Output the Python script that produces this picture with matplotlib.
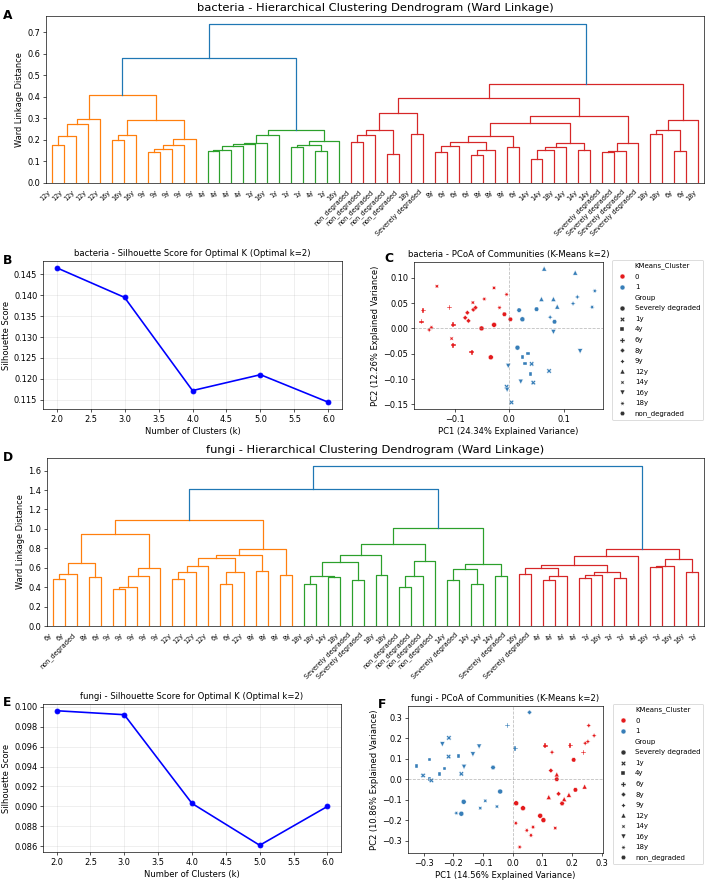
import numpy as np
import pandas as pd
import matplotlib
matplotlib.use("Agg")
import matplotlib.pyplot as plt
import seaborn as sns

W, H, DPI = 708, 881, 59

# ---------------- Dendrogram data (leaf labels in display order, merge trees) ----------------
bac_leaf_labels = ["12y", "12y", "12y", "12y", "12y", "16y", "16y", "16y", "9y", "9y", "9y", "9y", "9y",
                   "4y", "4y", "4y", "4y", "1y", "16y", "1y", "1y", "1y", "4y", "1y", "16y",
                   "non_degraded", "non_degraded", "non_degraded", "non_degraded", "non_degraded", "18y",
                   "Severely degraded", "8y", "6y", "6y", "6y", "8y", "8y", "8y", "6y",
                   "14y", "14y", "18y", "14y", "14y", "14y",
                   "Severely degraded", "Severely degraded", "Severely degraded", "Severely degraded",
                   "18y", "18y", "6y", "6y", "18y"]

# node = [left, right, merge height]; leaves are indices into the label list
bo1 = [[[[0, 1, 0.175], 2, 0.22], 3, 0.274], 4, 0.298]
bo2 = [[5, 6, 0.20], 7, 0.221]
bo3 = [[[[8, 9, 0.145], 10, 0.159], 11, 0.178], 12, 0.206]
bac_orange = [bo1, [bo2, bo3, 0.294], 0.41]

bg1 = [[[[[[13, 14, 0.147], 15, 0.153], 16, 0.171], 17, 0.180], 18, 0.184], 19, 0.221]
bg2 = [[[20, 21, 0.167], [22, 23, 0.148], 0.178], 24, 0.196]
bac_green = [bg1, bg2, 0.247]

br1 = [[[[25, 26, 0.19], 27, 0.221], [28, 29, 0.136], 0.244], [30, 31, 0.229], 0.325]
br2a = [[[32, 33, 0.145], 34, 0.17], [[35, 36, 0.128], 37, 0.155], 0.189]
br2b = [[[[40, 41, 0.113], 42, 0.153], 43, 0.165], [44, 45, 0.155], 0.187]
br2 = [[br2a, [38, 39, 0.167], 0.219], br2b, 0.281]
br3 = [[[46, 47, 0.145], 48, 0.15], 49, 0.187]
br4 = [[[50, 51, 0.229], [52, 53, 0.151], 0.244], 54, 0.294]
bac_red = [[br1, [br2, br3, 0.312], 0.394], br4, 0.46]
bac_tree = [[bac_orange, bac_green, 0.58], bac_red, 0.739]

fun_leaf_labels = ["6y", "6y", "non_degraded", "8y", "6y", "9y", "9y", "9y", "9y", "9y",
                   "12y", "12y", "12y", "12y", "6y", "6y", "12y", "8y", "8y", "8y", "8y",
                   "18y", "18y", "14y", "18y", "Severely degraded", "Severely degraded", "18y", "18y",
                   "non_degraded", "non_degraded", "non_degraded", "non_degraded", "14y",
                   "Severely degraded", "14y", "14y", "14y", "Severely degraded",
                   "16y", "Severely degraded", "4y", "4y", "4y", "4y", "1y", "16y", "1y", "1y",
                   "4y", "16y", "1y", "16y", "16y", "1y"]

fo1 = [[[0, 1, 0.489], 2, 0.533], [3, 4, 0.506], 0.65]
fo2 = [[[[5, 6, 0.382], 7, 0.403], 8, 0.513], 9, 0.599]
fo3 = [[[10, 11, 0.489], 12, 0.554], 13, 0.616]
fo4 = [[14, 15, 0.437], 16, 0.561]
fo5 = [[[fo3, fo4, 0.705], [17, 18, 0.568], 0.73], [19, 20, 0.53], 0.788]
fun_orange = [[fo1, fo2, 0.943], fo5, 1.09]

fg1 = [[[21, 22, 0.437], [23, 24, 0.50], 0.51], [25, 26, 0.478], 0.66]
fg2 = [fg1, [27, 28, 0.527], 0.736]
fg3 = [[[29, 30, 0.399], 31, 0.516], 32, 0.671]
fg4 = [[[33, 34, 0.478], [35, 36, 0.437], 0.582], [37, 38, 0.513], 0.637]
fun_green = [[fg2, fg3, 0.847], fg4, 1.008]

fr1 = [[39, 40, 0.533], [[41, 42, 0.478], 43, 0.513], 0.595]
fr2 = [[[44, 45, 0.499], 46, 0.53], [47, 48, 0.499], 0.557]
fr3 = [[fr1, fr2, 0.63], 49, 0.726]
fr4 = [[[50, 51, 0.606], 52, 0.619], [53, 54, 0.561], 0.688]
fun_red = [fr3, fr4, 0.795]
fun_tree = [[fun_orange, fun_green, 1.414], fun_red, 1.648]

# ---------------- Silhouette data ----------------
k_values = [2, 3, 4, 5, 6]
bac_silhouette = [0.1466, 0.1395, 0.1172, 0.1210, 0.1144]
fun_silhouette = [0.0996, 0.0992, 0.0903, 0.0861, 0.0900]

# ---------------- PCoA data ----------------
group_order = ["Severely degraded", "1y", "4y", "6y", "8y", "9y", "12y", "14y", "16y", "18y", "non_degraded"]

bac_pc1_c0 = [-0.133, -0.158, -0.161, -0.147, -0.143, -0.110, -0.103, -0.106, -0.103, -0.081, -0.077, -0.075,
              -0.067, -0.066, -0.062, -0.069, -0.046, -0.051, -0.028, -0.018, -0.028, -0.034, -0.005, -0.009, 0.002]
bac_pc2_c0 = [0.083, 0.035, 0.013, -0.003, 0.002, 0.041, 0.007, -0.020, -0.033, 0.021, 0.031, 0.015,
              0.051, 0.037, 0.041, -0.047, 0.058, 0.000, 0.080, 0.041, 0.007, -0.057, 0.067, 0.028, 0.018]
bac_grp_c0 = ["14y", "6y", "6y", "9y", "18y", "6y", "6y", "14y", "6y", "8y", "8y", "8y",
              "14y", "8y", "8y", "6y", "18y", "Severely degraded", "14y", "18y", "Severely degraded",
              "Severely degraded", "18y", "non_degraded", "non_degraded"]
bac_pc1_c1 = [0.064, 0.121, 0.157, 0.125, 0.117, 0.152, 0.059, 0.081, 0.088, 0.018, 0.050, 0.024, 0.075,
              0.083, 0.081, 0.130, 0.015, 0.024, 0.034, 0.029, 0.041, 0.039, 0.073, -0.002, 0.021, 0.044,
              -0.005, -0.004, 0.004]
bac_pc2_c1 = [0.118, 0.110, 0.074, 0.062, 0.049, 0.042, 0.058, 0.058, 0.043, 0.036, 0.038, 0.018, 0.022,
              0.013, -0.007, -0.045, -0.038, -0.056, -0.049, -0.069, -0.070, -0.090, -0.084, -0.074, -0.105,
              -0.107, -0.115, -0.121, -0.146]
bac_grp_c1 = ["12y", "12y", "18y", "9y", "9y", "18y", "12y", "12y", "12y", "non_degraded", "non_degraded",
              "Severely degraded", "9y", "non_degraded", "16y", "16y", "Severely degraded", "4y", "4y", "4y",
              "1y", "4y", "1y", "16y", "16y", "1y", "1y", "16y", "1y"]

fun_pc1_c0 = [0.257, 0.275, 0.110, 0.194, 0.133, 0.245, 0.254, 0.239, 0.206, 0.129, 0.149, 0.149, 0.155,
              0.122, 0.190, 0.174, 0.167, 0.212, 0.243, 0.012, 0.035, 0.093, 0.104, 0.011, 0.048, 0.069,
              0.062, 0.144, 0.024]
fun_pc2_c0 = [0.261, 0.212, 0.162, 0.163, 0.131, 0.175, 0.183, 0.129, 0.094, 0.042, 0.023, 0.000, -0.071,
              -0.087, -0.076, -0.097, -0.118, -0.052, -0.036, -0.117, -0.141, -0.178, -0.199, -0.214,
              -0.249, -0.233, -0.273, -0.238, -0.330]
fun_grp_c0 = ["9y", "9y", "6y", "6y", "9y", "9y", "9y", "6y", "non_degraded", "8y", "12y", "non_degraded",
              "8y", "12y", "12y", "12y", "non_degraded", "non_degraded", "12y", "Severely degraded",
              "Severely degraded", "Severely degraded", "Severely degraded", "18y", "18y", "18y", "18y",
              "14y", "18y"]
fun_pc1_c1 = [0.057, -0.017, 0.009, -0.325, -0.280, -0.302, -0.280, -0.274, -0.246, -0.230, -0.237, -0.215,
              -0.216, -0.182, -0.173, -0.164, -0.134, -0.113, -0.066, -0.042, -0.165, -0.173, -0.190,
              -0.092, -0.109, -0.053]
fun_pc2_c1 = [0.325, 0.261, 0.150, 0.065, 0.097, 0.018, 0.000, -0.006, 0.026, 0.053, 0.170, 0.201, 0.110,
              0.113, 0.026, 0.060, 0.121, 0.159, 0.057, -0.060, -0.110, -0.168, -0.165, -0.105, -0.141,
              -0.133]
fun_grp_c1 = ["8y", "6y", "6y", "4y", "4y", "1y", "4y", "1y", "4y", "4y", "16y", "1y", "1y", "4y", "1y",
              "16y", "16y", "16y", "non_degraded", "Severely degraded", "Severely degraded",
              "Severely degraded", "18y", "14y", "14y", "14y"]

cluster_palette = {0: "#e41a1c", 1: "#377eb8"}

# ---------------- helpers ----------------
fig = plt.figure(figsize=(W / DPI, H / DPI), dpi=DPI)


def axpos(l, r, t, b):
    return [l / W, 1 - b / H, (r - l) / W, (b - t) / H]


def draw_dendrogram(ax, tree, labels, title):
    top = tree[2]
    ct = 0.7 * top
    colors = ["C1", "C2", "C3", "C4", "C5", "C6", "C7", "C8", "C9"]
    counter = [0]

    def walk(node, color):
        if isinstance(node, int):
            return 5.0 + 10.0 * node, 0.0
        left, right, h = node
        if color is None and h < ct:
            color = colors[counter[0] % len(colors)]
            counter[0] += 1
        xl, hl = walk(left, color)
        xr, hr = walk(right, color)
        ax.plot([xl, xl, xr, xr], [hl, h, h, hr], color=color if color else "C0", lw=1.5)
        return (xl + xr) / 2.0, h

    walk(tree, None)
    n = len(labels)
    ax.set_xlim(0, 10 * n)
    ax.set_ylim(0, top * 1.05)
    ax.set_xticks([5 + 10 * i for i in range(n)])
    ax.set_xticklabels(labels, rotation=45, ha="right", fontsize=8)
    for line in ax.get_xticklines():
        line.set_visible(False)
    ax.set_title(title, fontsize=14)
    ax.set_ylabel("Ward Linkage Distance", fontsize=10)
    ax.tick_params(axis="y", labelsize=10)


def draw_silhouette(ax, scores, title, yticks):
    ax.plot(k_values, scores, "bo-", lw=2, markersize=6)
    ax.set_title(title, fontsize=10.4)
    ax.set_xlabel("Number of Clusters (k)", fontsize=10.2)
    ax.set_ylabel("Silhouette Score", fontsize=10.2)
    ax.set_yticks(yticks)
    ax.grid(True, alpha=0.3)
    ax.tick_params(labelsize=10)


def draw_pcoa(ax, pc1_0, pc2_0, g0, pc1_1, pc2_1, g1, title, xl, yl, xlim, ylim, xt, yt):
    df = pd.DataFrame({
        "PC1": pc1_0 + pc1_1,
        "PC2": pc2_0 + pc2_1,
        "KMeans_Cluster": [0] * len(pc1_0) + [1] * len(pc1_1),
        "Group": g0 + g1,
    })
    sns.scatterplot(data=df, x="PC1", y="PC2", hue="KMeans_Cluster", style="Group",
                    style_order=group_order, palette=cluster_palette, s=36, ax=ax)
    ax.axhline(0, color="gray", linestyle="--", alpha=0.5, lw=1)
    ax.axvline(0, color="gray", linestyle="--", alpha=0.5, lw=1)
    ax.set_xlim(*xlim)
    ax.set_ylim(*ylim)
    ax.set_xticks(xt)
    ax.set_yticks(yt)
    ax.set_title(title, fontsize=10.4)
    ax.set_xlabel(xl, fontsize=10.2)
    ax.set_ylabel(yl, fontsize=10.2)
    ax.tick_params(labelsize=10)
    ax.legend(bbox_to_anchor=(1.05, 1.015), loc="upper left", fontsize=8.5, labelspacing=0.65,
              borderaxespad=0.0)


# ---------------- panels ----------------
axA = fig.add_axes(axpos(46, 704, 16, 183))
draw_dendrogram(axA, bac_tree, bac_leaf_labels, "bacteria - Hierarchical Clustering Dendrogram (Ward Linkage)")

axB = fig.add_axes(axpos(43, 342, 261, 409))
draw_silhouette(axB, bac_silhouette, "bacteria - Silhouette Score for Optimal K (Optimal k=2)",
                [0.115, 0.120, 0.125, 0.130, 0.135, 0.140, 0.145])

axC = fig.add_axes(axpos(414, 603, 262, 409))
draw_pcoa(axC, bac_pc1_c0, bac_pc2_c0, bac_grp_c0, bac_pc1_c1, bac_pc2_c1, bac_grp_c1,
          "bacteria - PCoA of Communities (K-Means k=2)",
          "PC1 (24.34% Explained Variance)", "PC2 (12.26% Explained Variance)",
          (-0.175, 0.172), (-0.159, 0.131), [-0.1, 0.0, 0.1], [-0.15, -0.10, -0.05, 0.0, 0.05, 0.10])

axD = fig.add_axes(axpos(47, 704, 458, 626))
draw_dendrogram(axD, fun_tree, fun_leaf_labels, "fungi - Hierarchical Clustering Dendrogram (Ward Linkage)")

axE = fig.add_axes(axpos(43, 341, 704, 852))
draw_silhouette(axE, fun_silhouette, "fungi - Silhouette Score for Optimal K (Optimal k=2)",
                [0.086, 0.088, 0.090, 0.092, 0.094, 0.096, 0.098, 0.100])

axF = fig.add_axes(axpos(408, 603, 706, 853))
draw_pcoa(axF, fun_pc1_c0, fun_pc2_c0, fun_grp_c0, fun_pc1_c1, fun_pc2_c1, fun_grp_c1,
          "fungi - PCoA of Communities (K-Means k=2)",
          "PC1 (14.56% Explained Variance)", "PC2 (10.86% Explained Variance)",
          (-0.353, 0.305), (-0.359, 0.356), [-0.3, -0.2, -0.1, 0.0, 0.1, 0.2, 0.3],
          [-0.3, -0.2, -0.1, 0.0, 0.1, 0.2, 0.3])

# panel letters
for letter, x, y in [("A", 3, 9), ("B", 3, 254), ("C", 384, 252), ("D", 3, 451), ("E", 3, 696), ("F", 378, 698)]:
    fig.text(x / W, 1 - y / H, letter, fontsize=15, fontweight="bold", ha="left", va="top")

fig.savefig("out.png", dpi=DPI)
